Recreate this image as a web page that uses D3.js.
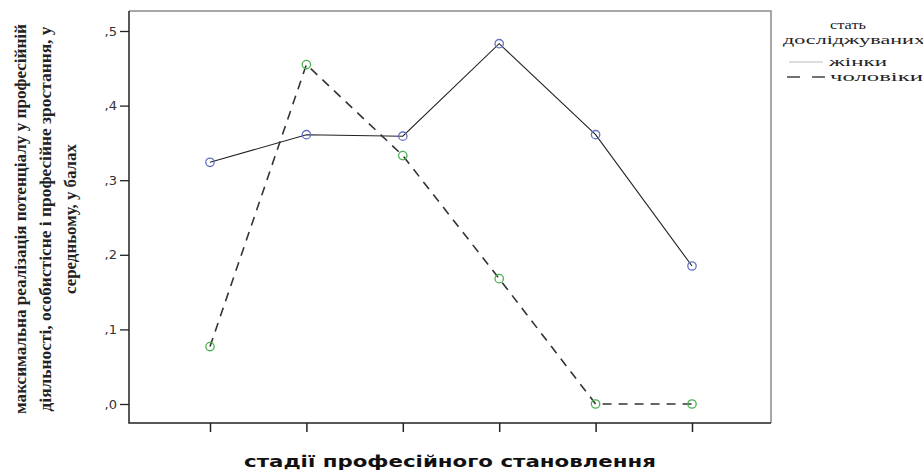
<!DOCTYPE html>
<html>
<head>
<meta charset="utf-8">
<script src="https://cdn.jsdelivr.net/npm/d3@7"></script>
<style>
  body { margin: 0; background: #fff; }
  svg { display: block; }
  .axis text { font-family: "DejaVu Sans", sans-serif; font-size: 13px; fill: #333; }
  .axis path, .axis line { stroke: #222; }
</style>
</head>
<body>
<svg id="chart" width="923" height="473"></svg>
<script>
// stages of professional development (x categories, unlabeled in the original)
const stages = ['1', '2', '3', '4', '5', '6']
const women = [0.324, 0.361, 0.359, 0.483, 0.361, 0.185]
const men = [0.077, 0.455, 0.333, 0.168, 0.0, 0.0]
const yTicks = [0, 0.1, 0.2, 0.3, 0.4, 0.5]
const yTitleLines = [
  'максимальна реалізація потенціалу у професійній',
  'діяльності, особистісне і професійне зростання, у',
  'середньому, у балах'
]
const xTitle = 'стадії професійного становлення'
const legendTitle = ['стать', 'досліджуваних']
const legendLabels = ['жінки', 'чоловіки']

const svg = d3.select('#chart')
const plotLeft = 129
const plotRight = 771
const plotTop = 11
const plotBottom = 423

const x = d3.scalePoint().domain(stages).range([210, 692])
const y = d3.scaleLinear().domain([0, 0.5]).range([404, 31])

// frame (top and right in gray)
svg.append('path')
  .attr('d', `M${plotLeft},${plotTop}H${plotRight}V${plotBottom}`)
  .attr('fill', 'none')
  .attr('stroke', '#8a8a8a')
  .attr('stroke-width', 1.5)

const yAxis = svg.append('g')
  .attr('class', 'axis')
  .attr('transform', `translate(${plotLeft},0)`)
  .call(d3.axisLeft(y).tickValues(yTicks).tickSize(9).tickPadding(3)
    .tickFormat(d => d3.format('.1f')(d).replace('0.', ',')))
yAxis.select('.domain').remove()
yAxis.selectAll('line').attr('stroke-width', 1.3)

const xAxis = svg.append('g')
  .attr('class', 'axis')
  .attr('transform', `translate(0,${plotBottom})`)
  .call(d3.axisBottom(x).tickSize(9).tickFormat(''))
xAxis.select('.domain').remove()
xAxis.selectAll('line').attr('stroke-width', 1.5)

// axis lines
svg.append('path')
  .attr('d', `M${plotLeft},${plotTop}V${plotBottom}H${plotRight}`)
  .attr('fill', 'none')
  .attr('stroke', '#222')
  .attr('stroke-width', 1.5)

const line = d3.line()
  .x((d, i) => x(stages[i]))
  .y(d => y(d))

svg.append('path')
  .datum(women)
  .attr('d', line)
  .attr('fill', 'none')
  .attr('stroke', '#222')
  .attr('stroke-width', 1.1)

svg.append('path')
  .datum(men)
  .attr('d', line)
  .attr('fill', 'none')
  .attr('stroke', '#333')
  .attr('stroke-width', 1.6)
  .attr('stroke-dasharray', '9,7')

svg.append('g').selectAll('circle')
  .data(women)
  .join('circle')
  .attr('cx', (d, i) => x(stages[i]))
  .attr('cy', d => y(d))
  .attr('r', 4.2)
  .attr('fill', 'none')
  .attr('stroke', '#6470c4')
  .attr('stroke-width', 1.3)

svg.append('g').selectAll('circle')
  .data(men)
  .join('circle')
  .attr('cx', (d, i) => x(stages[i]))
  .attr('cy', d => y(d))
  .attr('r', 4.2)
  .attr('fill', 'none')
  .attr('stroke', '#4cb050')
  .attr('stroke-width', 1.3)

// y title, three centered lines
const yTitle = svg.append('text')
  .attr('transform', `translate(0,${(plotTop + plotBottom) / 2 + 2}) rotate(-90)`)
  .attr('text-anchor', 'middle')
  .style('font-family', '"Liberation Serif", serif')
  .style('font-weight', 'bold')
  .style('font-size', '16px')
  .attr('fill', '#222')
const yTitleX = [26, 51, 76]
const yTitleLen = [390, 385, 150]
yTitleLines.forEach((t, i) => {
  yTitle.append('tspan')
    .attr('x', 0)
    .attr('y', yTitleX[i])
    .attr('textLength', yTitleLen[i])
    .attr('lengthAdjust', 'spacingAndGlyphs')
    .text(t)
})

// x title
svg.append('text')
  .attr('x', 450)
  .attr('y', 467)
  .attr('text-anchor', 'middle')
  .attr('textLength', 412)
  .attr('lengthAdjust', 'spacingAndGlyphs')
  .style('font-family', '"DejaVu Sans", sans-serif')
  .style('font-weight', 'bold')
  .style('font-size', '15px')
  .attr('fill', '#111')
  .text(xTitle)

// legend
const legend = svg.append('g')
  .style('font-family', '"Liberation Serif", serif')
  .style('font-size', '13px')
  .attr('fill', '#222')
legend.append('text').attr('x', 848).attr('y', 29).attr('text-anchor', 'middle')
  .attr('textLength', 36).attr('lengthAdjust', 'spacingAndGlyphs').text(legendTitle[0])
legend.append('text').attr('x', 783).attr('y', 44)
  .attr('textLength', 142).attr('lengthAdjust', 'spacingAndGlyphs').text(legendTitle[1])
legend.append('line').attr('x1', 789).attr('x2', 823).attr('y1', 62).attr('y2', 62)
  .attr('stroke', '#bbb').attr('stroke-width', 1)
legend.append('line').attr('x1', 787).attr('x2', 826).attr('y1', 77).attr('y2', 77)
  .attr('stroke', '#444').attr('stroke-width', 1.6).attr('stroke-dasharray', '13,12')
legend.append('text').attr('x', 829).attr('y', 66)
  .attr('textLength', 58).attr('lengthAdjust', 'spacingAndGlyphs').text(legendLabels[0])
legend.append('text').attr('x', 830).attr('y', 81)
  .attr('textLength', 93).attr('lengthAdjust', 'spacingAndGlyphs').text(legendLabels[1])
</script>
</body>
</html>
